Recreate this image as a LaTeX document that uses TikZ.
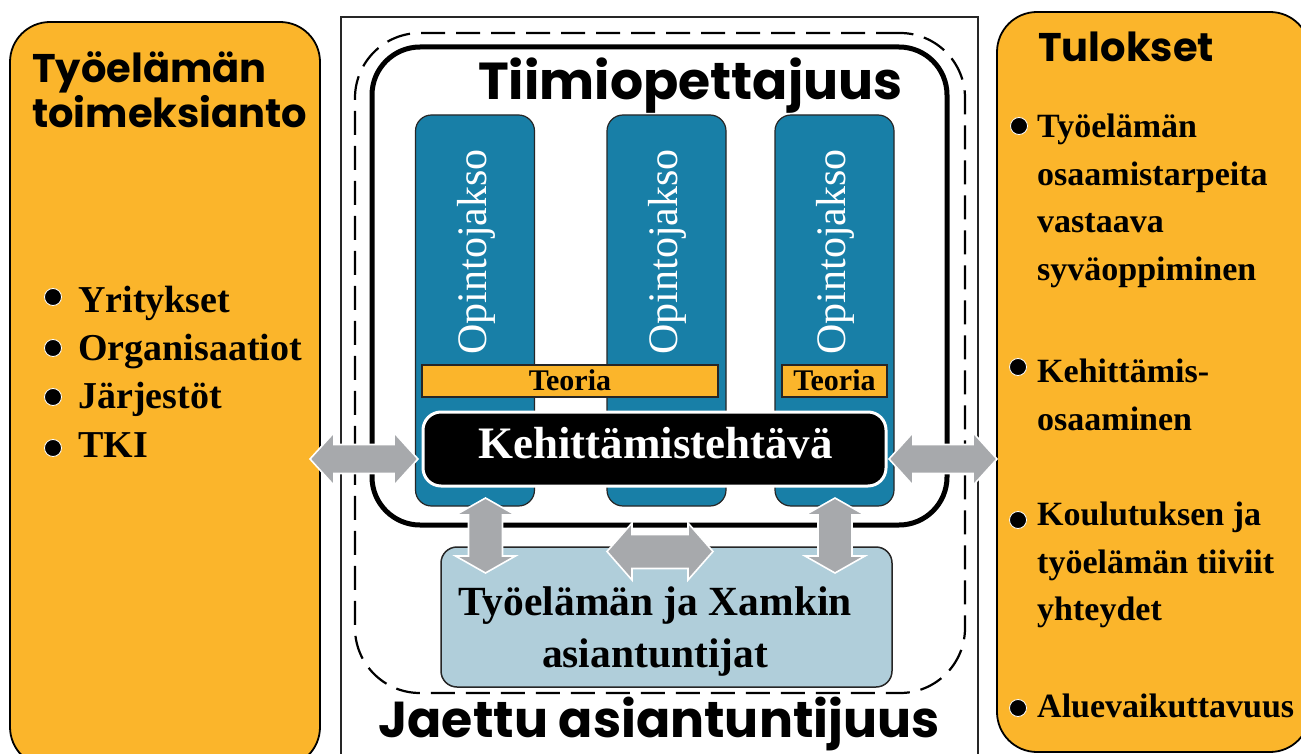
\documentclass[tikz,border=0pt]{standalone}
\usepackage{fontspec}
\setmainfont{Liberation Serif}
\newfontfamily\headfont{Poppins}
\usetikzlibrary{calc}
\definecolor{orng}{RGB}{251,181,43}
\definecolor{colblue}{RGB}{24,127,167}
\definecolor{lblue}{RGB}{176,206,218}
\definecolor{agray}{RGB}{167,169,172}
\newcommand\harrow[5]{%
  \draw[blockarr] let \p1=#1, \p2=#2 in
   (\x1,\y1) -- (\x1+#5pt,\y1+#4pt) -- (\x1+#5pt,\y1+#3pt) -- (\x2-#5pt,\y1+#3pt)
   -- (\x2-#5pt,\y1+#4pt) -- (\x2,\y1) -- (\x2-#5pt,\y1-#4pt) -- (\x2-#5pt,\y1-#3pt)
   -- (\x1+#5pt,\y1-#3pt) -- (\x1+#5pt,\y1-#4pt) -- cycle;}
\newcommand\varrow[5]{%
  \draw[blockarr] let \p1=#1, \p2=#2 in
   (\x1,\y1) -- (\x1+#4pt,\y1-#5pt) -- (\x1+#3pt,\y1-#5pt) -- (\x1+#3pt,\y2+#5pt)
   -- (\x1+#4pt,\y2+#5pt) -- (\x1,\y2) -- (\x1-#4pt,\y2+#5pt) -- (\x1-#3pt,\y2+#5pt)
   -- (\x1-#3pt,\y1-#5pt) -- (\x1-#4pt,\y1-#5pt) -- cycle;}
\begin{document}
\begin{tikzpicture}[x=1pt,y=-1pt,
  box/.style={anchor=north west, inner sep=0pt, outer sep=0pt},
  side/.style={box, draw=black, line width=1.8pt, fill=orng, rounded corners=40pt},
  col/.style={box, draw=black!85, line width=1.2pt, fill=colblue, rounded corners=16pt, minimum width=119, minimum height=391},
  teo/.style={box, draw=black!85, line width=1.2pt, fill=orng, minimum height=32},
  teotxt/.style={inner sep=0pt, font=\bfseries\fontsize{30}{32}\selectfont},
  optxt/.style={inner sep=0pt, rotate=90, text=white, font=\fontsize{42}{44}\selectfont},
  blockarr/.style={fill=agray, draw=white, line width=1.6pt, line join=miter},
  bul/.style={circle, fill=black, draw=white, line width=0.8pt, minimum size=17pt, inner sep=0pt},
  head/.style={anchor=base west, inner sep=0pt, font=\headfont\bfseries\fontsize{40}{42}\selectfont},
  ltxt/.style={anchor=base west, inner sep=0pt, font=\bfseries\fontsize{38}{40}\selectfont},
  rtxt/.style={anchor=base west, inner sep=0pt, font=\bfseries\fontsize{34}{36}\selectfont},
  exptxt/.style={anchor=base, inner sep=0pt, font=\bfseries\fontsize{41.5}{43}\selectfont},
]
\clip (0,0) rectangle (1301,754);
\fill[white] (0,0) rectangle (1301,754);
% side boxes
\node[side, minimum width=310, minimum height=745] (lbox) at (10,22) {};
\node[side, minimum width=313, minimum height=740] (rbox) at (997,12) {};
% centre frames
\node[box, draw=black!85, line width=1.5pt, minimum width=637, minimum height=760] (outer) at (341,17) {};
\node[box, draw=black, line width=2.2pt, dash pattern=on 24pt off 11pt, rounded corners=65pt, minimum width=610, minimum height=660] (shared) at (355,33) {};
\node[box, draw=black, line width=5pt, rounded corners=48pt, minimum width=575, minimum height=478] (team) at (372,47) {};
% columns
\node[col] (col1) at (415.5,115) {};
\node[col] (col2) at (607,115) {};
\node[col] (col3) at (775,115) {};
\node[optxt] (op1) at ($(col1.north)+(1,137)$) {Opintojakso};
\node[optxt] (op2) at ($(col2.north)+(1,137)$) {Opintojakso};
\node[optxt] (op3) at ($(col3.north)+(1,137)$) {Opintojakso};
% theory bars
\node[teo, minimum width=296] (teo1) at (422,365) {};
\node[teo, minimum width=105] (teo2) at (782,365) {};
\node[teotxt, anchor=base] (teo1t) at ($(teo1.south)+(0,-7)$) {Teoria};
\node[teotxt, anchor=base] (teo2t) at ($(teo2.south)+(0,-7)$) {Teoria};
% development task
\node[box, fill=black, draw=white, line width=3pt, rounded corners=18pt, minimum width=463, minimum height=74] (keh) at (423,412) {};
\node[anchor=base, inner sep=0pt, text=white, font=\bfseries\fontsize{45}{47}\selectfont] (keht) at ($(keh.center)+(1,9)$) {Kehittämistehtävä};
% experts
\node[box, fill=lblue, draw=black!85, line width=1.5pt, rounded corners=16pt, minimum width=451, minimum height=140] (exp) at (441,547) {};
% arrows
\harrow{($(lbox.east |- keh.west)+(-10,10)$)}{($(keh.west)+(-5,10)$)}{14.5}{26.5}{24}
\harrow{($(keh.east)+(3,10)$)}{($(rbox.west |- keh.east)+(0,10)$)}{14.5}{26.5}{24}
\harrow{($(col2.south west)+(0,45.5)$)}{($(col2.south east)+(-13,45.5)$)}{17}{28.5}{25}
\varrow{($(col1.south)+(10.5,-8)$)}{($(col1.south |- exp.north)+(10.5,26)$)}{17}{30}{17}
\varrow{($(col3.south)+(0.5,-8)$)}{($(col3.south |- exp.north)+(0.5,26)$)}{17}{30}{17}
% experts text
\node[exptxt] (exp1) at (655,615) {Työelämän ja Xamkin};
\node[exptxt] (exp2) at (655,667) {asiantuntijat};
% titles
\node[anchor=base west, inner sep=0pt, font=\headfont\bfseries\fontsize{52}{54}\selectfont] (ttl) at (478,100) {Tiimiopettajuus};
\node[anchor=base, inner sep=0pt, font=\headfont\bfseries\fontsize{50.5}{52}\selectfont] (jae) at (659,737) {Jaettu asiantuntijuus};
% left box content
\node[head] (lh1) at (32,83) {Työelämän};
\node[head] (lh2) at (32,128) {toimeksianto};
\node[bul] (lb1) at (53,297) {};
\node[bul] (lb2) at (53,348) {};
\node[bul] (lb3) at (53,397) {};
\node[bul] (lb4) at (53,448) {};
\node[ltxt] (lt1) at (78,312) {Yritykset};
\node[ltxt] (lt2) at (78,360) {Organisaatiot};
\node[ltxt] (lt3) at (78,408) {Järjestöt};
\node[ltxt] (lt4) at (78,457) {TKI};
% right box content
\node[head] (rh) at (1038,62) {Tulokset};
\node[bul] (rb1) at (1019,126) {};
\node[bul] (rb2) at (1018,367) {};
\node[bul] (rb3) at (1018,520) {};
\node[bul] (rb4) at (1018,708) {};
\node[rtxt] (rt1) at (1037,138) {Työelämän};
\node[rtxt] (rt2) at (1037,186) {osaamistarpeita};
\node[rtxt] (rt3) at (1037,233) {vastaava};
\node[rtxt] (rt4) at (1037,280) {syväoppiminen};
\node[rtxt] (rt5) at (1037,382) {Kehittämis-};
\node[rtxt] (rt6) at (1037,430) {osaaminen};
\node[rtxt] (rt7) at (1037,525) {Koulutuksen ja};
\node[rtxt] (rt8) at (1037,573) {työelämän tiiviit};
\node[rtxt] (rt9) at (1037,620) {yhteydet};
\node[rtxt] (rt10) at (1037,717) {Aluevaikuttavuus};
\end{tikzpicture}
\end{document}
